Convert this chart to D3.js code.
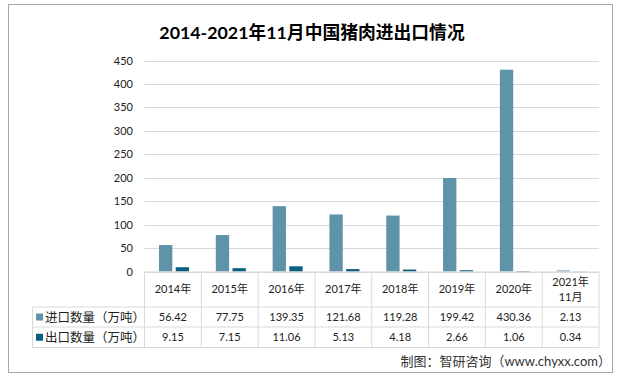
<!DOCTYPE html>
<html><head><meta charset="utf-8">
<script src="https://cdn.jsdelivr.net/npm/d3@7"></script>
<style>
body{margin:0;background:#fff;}
svg{display:block;font-family:Lato,"Noto Sans CJK SC",sans-serif;}
</style></head>
<body>
<svg id="c" width="622" height="381"></svg>
<script>
const categories = ["2014年","2015年","2016年","2017年","2018年","2019年","2020年","2021年\n11月"];
const importValues = [56.42,77.75,139.35,121.68,119.28,199.42,430.36,2.13];
const exportValues = [9.15,7.15,11.06,5.13,4.18,2.66,1.06,0.34];
const importLabels = ["56.42","77.75","139.35","121.68","119.28","199.42","430.36","2.13"];
const exportLabels = ["9.15","7.15","11.06","5.13","4.18","2.66","1.06","0.34"];
const seriesNames = ["进口数量（万吨）","出口数量（万吨）"];
const yTicks = [0,50,100,150,200,250,300,350,400,450];
const title = "2014-2021年11月中国猪肉进出口情况";
const source = "制图：智研咨询（www.chyxx.com）";

(function(){
const colors = ["#5f93aa","#0c5f80"];
const svg = d3.select("#c");
const txt = "#222";
const lineC = "#d9d9d9";

svg.append("rect").attr("x",8.5).attr("y",4.5).attr("width",604).attr("height",368)
  .attr("fill","#fff").attr("stroke","#a6a6a6").attr("stroke-width",1);

svg.append("text").attr("x",312).attr("y",39).attr("text-anchor","middle")
  .attr("font-size",17.8).attr("font-weight","bold").attr("fill","#000").text(title);

const pl=144.5, pr=599, pt=60.5, pb=271.5;
const x = d3.scaleBand().domain(categories).range([pl,pr]).paddingInner(0).paddingOuter(0);
const y = d3.scaleLinear().domain([0,450]).range([pb,pt]);

svg.append("g").selectAll("line").data(yTicks).join("line")
  .attr("x1",pl).attr("x2",pr).attr("y1",d=>Math.round(y(d))+0.5).attr("y2",d=>Math.round(y(d))+0.5)
  .attr("stroke",lineC).attr("stroke-width",1);

const yAxis = d3.axisLeft(y).tickValues(yTicks).tickSize(0).tickPadding(0);
const ga = svg.append("g").attr("transform",`translate(${133},0)`).call(yAxis);
ga.select(".domain").remove();
ga.selectAll("text").attr("font-size",11).attr("fill",txt).attr("font-family",'Lato,"Noto Sans CJK SC",sans-serif');

const xs = d3.scaleBand().domain([0,1]).range([14.5,44.5]).paddingInner(0.2);
const series=[importValues,exportValues];
series.forEach((vals,si)=>{
  svg.append("g").selectAll("rect").data(vals).join("rect")
    .attr("x",(d,i)=>x(categories[i])+xs(si))
    .attr("width",xs.bandwidth())
    .attr("y",d=>y(d)).attr("height",d=>pb-y(d))
    .attr("fill",colors[si]);
});

const rowTops=[pb,307,327,347.5];
const tableLeft=32.5;
const tg=svg.append("g");
tg.append("line").attr("x1",pl).attr("x2",pr).attr("y1",rowTops[0]+0.5).attr("y2",rowTops[0]+0.5).attr("stroke",lineC);
[1,2,3].forEach(k=>{
  tg.append("line").attr("x1",tableLeft).attr("x2",pr).attr("y1",rowTops[k]).attr("y2",rowTops[k]).attr("stroke",lineC);
});
const vx = categories.map(c=>x(c)).concat([pr]);
vx.forEach(v=>{
  tg.append("line").attr("x1",v).attr("x2",v).attr("y1",rowTops[0]).attr("y2",rowTops[3]).attr("stroke",lineC);
});
tg.append("line").attr("x1",tableLeft).attr("x2",tableLeft).attr("y1",rowTops[1]).attr("y2",rowTops[3]).attr("stroke",lineC);

categories.forEach(c=>{
  const parts=c.split("\n");
  const cx=x(c)+x.bandwidth()/2;
  const mid=(rowTops[0]+rowTops[1])/2;
  parts.forEach((p,j)=>{
    tg.append("text").attr("x",cx).attr("y",mid+4+(j-(parts.length-1)/2)*15.5)
      .attr("text-anchor","middle").attr("font-size",11).attr("fill",txt).text(p);
  });
});
const rowLabels=[importLabels,exportLabels];
rowLabels.forEach((labs,r)=>{
  const mid=(rowTops[r+1]+rowTops[r+2])/2;
  labs.forEach((l,i)=>{
    tg.append("text").attr("x",x(categories[i])+x.bandwidth()/2).attr("y",mid+4)
      .attr("text-anchor","middle").attr("font-size",11).attr("fill",txt).text(l);
  });
  tg.append("rect").attr("x",36).attr("y",mid-3.5).attr("width",7).attr("height",7).attr("fill",colors[r]);
  tg.append("text").attr("x",45).attr("y",mid+4.5).attr("font-size",12.5).attr("fill",txt).text(seriesNames[r]);
});

svg.append("text").attr("x",611).attr("y",366).attr("text-anchor","end")
  .attr("font-size",13).attr("fill","#333").text(source);
})();
</script>
</body></html>
